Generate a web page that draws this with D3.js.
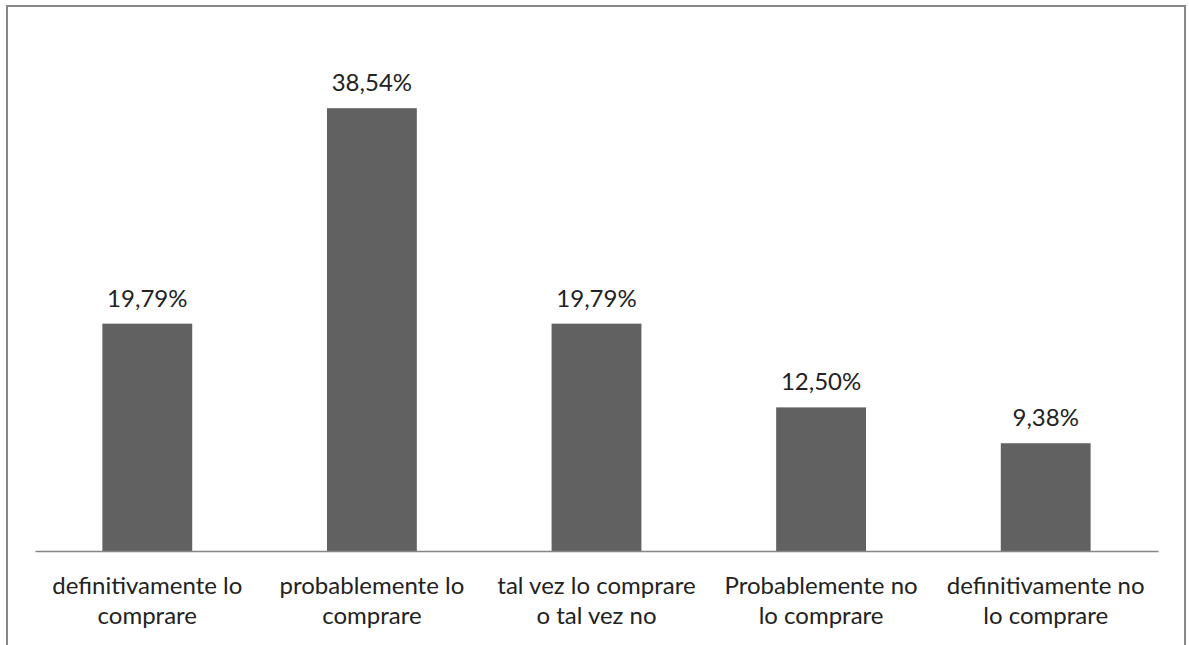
<!DOCTYPE html>
<html lang="es">
<head>
    <meta charset="UTF-8">
    <title>Intención de compra</title>
    <script src="https://cdnjs.cloudflare.com/ajax/libs/d3/7.8.5/d3.min.js"></script>
    <style>
        body { margin: 0; background: #fff; }
        svg { display: block; }
    </style>
</head>
<body>
    <div id="chart"></div>
    <script>
        // chart data
        const categories = [
            'definitivamente lo comprare',
            'probablemente lo comprare',
            'tal vez lo comprare o tal vez no',
            'Probablemente no lo comprare',
            'definitivamente no lo comprare'
        ];
        const labelLines = [
            ['definitivamente lo', 'comprare'],
            ['probablemente lo', 'comprare'],
            ['tal vez lo comprare', 'o tal vez no'],
            ['Probablemente no', 'lo comprare'],
            ['definitivamente no', 'lo comprare']
        ];
        const values = [19.79, 38.54, 19.79, 12.50, 9.38];
        const valueLabels = ['19,79%', '38,54%', '19,79%', '12,50%', '9,38%'];

        const width = 1189, height = 645;
        const font = 'Lato, "Open Sans", sans-serif';

        const svg = d3.select('#chart').append('svg')
            .attr('width', width)
            .attr('height', height);

        // outer frame (bottom edge falls outside the picture)
        svg.append('path')
            .attr('d', 'M7,650 V6 H1185 V650')
            .attr('fill', 'none')
            .attr('stroke', '#878787')
            .attr('stroke-width', 2);

        const x = d3.scaleBand()
            .domain(categories)
            .range([35, 1158])
            .paddingInner(0.6)
            .paddingOuter(0.3);

        const y = d3.scaleLinear()
            .domain([0, 45])
            .range([551, 34]);

        svg.append('g')
            .selectAll('rect')
            .data(values)
            .join('rect')
            .attr('x', (d, i) => x(categories[i]))
            .attr('y', d => y(d))
            .attr('width', x.bandwidth())
            .attr('height', d => y(0) - y(d))
            .attr('fill', '#616161');

        // axis line
        const axis = svg.append('g')
            .attr('transform', `translate(0,${y(0)})`)
            .call(d3.axisBottom(x).tickSize(0).tickFormat(''));
        axis.select('.domain')
            .attr('stroke', '#868686')
            .attr('stroke-width', 1.5);

        // value labels
        svg.append('g')
            .selectAll('text')
            .data(values)
            .join('text')
            .attr('x', (d, i) => x(categories[i]) + x.bandwidth() / 2)
            .attr('y', d => y(d) - 17)
            .attr('text-anchor', 'middle')
            .attr('font-family', font)
            .attr('font-size', 24)
            .attr('fill', '#222')
            .text((d, i) => valueLabels[i]);

        // category labels on two lines
        const cat = svg.append('g')
            .selectAll('text')
            .data(labelLines)
            .join('text')
            .attr('text-anchor', 'middle')
            .attr('font-family', font)
            .attr('font-size', 24)
            .attr('fill', '#222');

        cat.selectAll('tspan')
            .data((d, i) => d.map(t => ({ t, i })))
            .join('tspan')
            .attr('x', d => x(categories[d.i]) + x.bandwidth() / 2)
            .attr('y', (d, j) => y(0) + 43 + j * 30)
            .text(d => d.t);
    </script>
</body>
</html>
